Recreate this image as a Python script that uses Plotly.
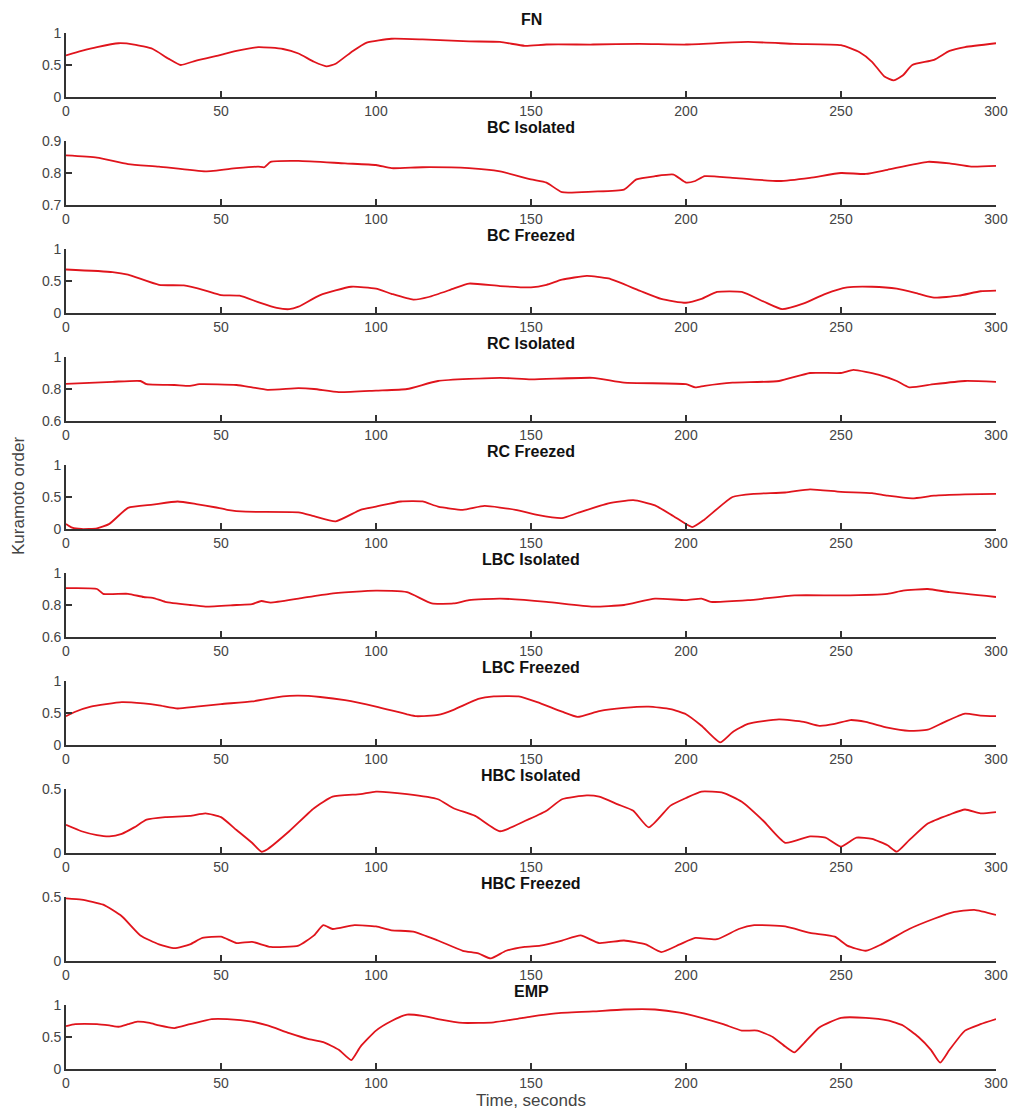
import plotly.graph_objects as go

# ---------------- data ----------------
titles = ["FN", "BC Isolated", "BC Freezed", "RC Isolated", "RC Freezed",
          "LBC Isolated", "LBC Freezed", "HBC Isolated", "HBC Freezed", "EMP"]

fn_t = [0, 5, 10, 17, 22, 28, 33, 37, 42, 50, 55, 62, 70, 75, 80, 84, 87, 92, 97, 105, 115, 130, 140, 148, 155,
        170, 185, 200, 220, 235, 250, 256, 260, 264, 267, 270, 273, 280, 285, 290, 300]
fn_v = [0.65, 0.72, 0.78, 0.84, 0.82, 0.75, 0.6, 0.5, 0.57, 0.66, 0.72, 0.78, 0.75, 0.68, 0.55, 0.48, 0.52, 0.7,
        0.85, 0.91, 0.9, 0.87, 0.86, 0.8, 0.82, 0.82, 0.83, 0.82, 0.86, 0.83, 0.81, 0.7, 0.55, 0.32, 0.26, 0.34,
        0.5, 0.58, 0.72, 0.78, 0.84]

bci_t = [0, 10, 20, 30, 45, 55, 62, 64, 66, 75, 90, 100, 105, 115, 130, 140, 150, 155, 160, 170, 180, 184, 190,
         196, 200, 203, 206, 215, 230, 240, 250, 258, 265, 278, 285, 292, 300]
bci_v = [0.855, 0.848, 0.828, 0.82, 0.805, 0.815, 0.82, 0.818, 0.835, 0.838, 0.83, 0.825, 0.815, 0.818, 0.815,
         0.805, 0.78, 0.77, 0.74, 0.742, 0.748, 0.78, 0.79, 0.795, 0.77, 0.775, 0.79, 0.785, 0.775, 0.785, 0.8,
         0.797, 0.81, 0.835, 0.83, 0.82, 0.822]

bcf_t = [0, 15, 20, 30, 38, 45, 50, 56, 62, 68, 72, 75, 82, 92, 100, 105, 112, 117, 125, 130, 140, 150, 155, 160,
         168, 175, 185, 192, 200, 205, 210, 218, 225, 231, 238, 245, 252, 260, 268, 275, 280, 288, 295, 300]
bcf_v = [0.68, 0.64, 0.6, 0.44, 0.43, 0.35, 0.28, 0.27, 0.17, 0.08, 0.06, 0.1, 0.28, 0.41, 0.38, 0.3, 0.21, 0.25,
         0.38, 0.46, 0.42, 0.4, 0.44, 0.52, 0.58, 0.54, 0.35, 0.22, 0.16, 0.22, 0.33, 0.33, 0.18, 0.06, 0.15, 0.3,
         0.4, 0.41, 0.38, 0.3, 0.24, 0.27, 0.34, 0.35]

rci_t = [0, 15, 24, 26, 35, 40, 43, 55, 60, 65, 75, 80, 88, 100, 110, 120, 140, 150, 170, 180, 200, 203, 206, 215,
         230, 240, 250, 254, 262, 268, 272, 280, 290, 300]
rci_v = [0.832, 0.845, 0.85, 0.83, 0.825, 0.82, 0.83, 0.825, 0.81, 0.795, 0.805, 0.8, 0.78, 0.79, 0.8, 0.85,
         0.87, 0.86, 0.87, 0.84, 0.83, 0.81, 0.82, 0.84, 0.85, 0.9, 0.9, 0.92, 0.89, 0.85, 0.81, 0.83, 0.85, 0.845]

rcf_t = [0, 2, 5, 10, 14, 20, 28, 36, 42, 48, 52, 58, 75, 80, 87, 95, 100, 108, 115, 120, 128, 135, 145, 152,
         160, 165, 175, 183, 190, 196, 202, 206, 215, 222, 232, 240, 250, 260, 265, 273, 280, 290, 300]
rcf_v = [0.08, 0.02, 0.0, 0.01, 0.08, 0.33, 0.38, 0.43, 0.39, 0.34, 0.3, 0.27, 0.26, 0.2, 0.12, 0.3, 0.35, 0.43,
         0.43, 0.35, 0.3, 0.36, 0.3, 0.22, 0.17, 0.25, 0.4, 0.45, 0.37, 0.2, 0.03, 0.15, 0.5, 0.55, 0.57, 0.62,
         0.58, 0.56, 0.52, 0.48, 0.52, 0.54, 0.55]

lbci_t = [0, 10, 12, 20, 25, 28, 32, 40, 45, 55, 60, 63, 66, 75, 85, 100, 110, 118, 125, 130, 140, 155, 170, 180,
          190, 200, 205, 208, 220, 235, 250, 265, 270, 278, 285, 300]
lbci_v = [0.905, 0.9, 0.87, 0.87, 0.85, 0.845, 0.82, 0.8, 0.79, 0.8, 0.805, 0.825, 0.815, 0.84, 0.87, 0.89, 0.88,
          0.81, 0.81, 0.83, 0.84, 0.82, 0.79, 0.8, 0.84, 0.83, 0.84, 0.82, 0.83, 0.86, 0.86, 0.87, 0.89, 0.9,
          0.88, 0.85]

lbcf_t = [0, 3, 8, 18, 25, 30, 36, 42, 50, 60, 70, 75, 82, 90, 100, 110, 113, 120, 125, 133, 138, 146, 152, 160,
          165, 172, 180, 188, 195, 200, 205, 211, 215, 220, 230, 238, 243, 248, 253, 258, 265, 272, 278, 283, 290,
          295, 300]
lbcf_v = [0.45, 0.52, 0.6, 0.67, 0.65, 0.62, 0.57, 0.6, 0.64, 0.68, 0.76, 0.77, 0.75, 0.7, 0.6, 0.48, 0.45, 0.47,
          0.55, 0.72, 0.76, 0.76, 0.67, 0.52, 0.44, 0.53, 0.58, 0.6, 0.56, 0.48, 0.3, 0.04, 0.2, 0.33, 0.4, 0.36,
          0.3, 0.33, 0.39, 0.36, 0.27, 0.22, 0.24, 0.35, 0.49, 0.46, 0.45]

hbci_t = [0, 5, 10, 14, 18, 22, 26, 32, 40, 45, 50, 55, 60, 63, 65, 72, 80, 86, 95, 100, 110, 120, 125, 132, 140,
          148, 155, 160, 168, 172, 178, 183, 188, 195, 200, 205, 212, 218, 225, 232, 240, 245, 250, 255, 260, 265,
          268, 272, 278, 285, 290, 295, 300]
hbci_v = [0.22, 0.17, 0.14, 0.13, 0.15, 0.2, 0.26, 0.28, 0.29, 0.31, 0.28, 0.18, 0.08, 0.01, 0.03, 0.17, 0.35,
          0.44, 0.46, 0.48, 0.46, 0.42, 0.35, 0.29, 0.17, 0.25, 0.33, 0.42, 0.45, 0.44, 0.38, 0.33, 0.2, 0.37,
          0.43, 0.48, 0.47, 0.4, 0.25, 0.08, 0.13, 0.12, 0.05, 0.12, 0.11, 0.06, 0.01, 0.1, 0.23, 0.3, 0.34, 0.31,
          0.32]

hbcf_t = [0, 5, 12, 18, 24, 30, 35, 40, 44, 50, 55, 60, 66, 75, 80, 83, 86, 93, 100, 105, 112, 120, 128, 133, 137,
          142, 148, 153, 160, 166, 172, 180, 187, 192, 198, 203, 210, 217, 222, 232, 240, 248, 252, 258, 263, 272,
          280, 286, 293, 300]
hbcf_v = [0.49, 0.48, 0.44, 0.35, 0.2, 0.13, 0.1, 0.13, 0.18, 0.19, 0.14, 0.15, 0.11, 0.12, 0.2, 0.28, 0.25,
          0.28, 0.27, 0.24, 0.23, 0.16, 0.08, 0.06, 0.02, 0.08, 0.11, 0.12, 0.16, 0.2, 0.14, 0.16, 0.13, 0.07,
          0.13, 0.18, 0.17, 0.25, 0.28, 0.27, 0.22, 0.19, 0.12, 0.08, 0.13, 0.25, 0.33, 0.38, 0.4, 0.36]

emp_t = [0, 3, 10, 14, 17, 20, 23, 27, 30, 35, 40, 47, 52, 60, 65, 72, 78, 83, 88, 92, 95, 100, 105, 110, 115,
         120, 128, 138, 145, 150, 158, 170, 180, 190, 198, 205, 212, 218, 223, 228, 232, 235, 238, 243, 250, 258,
         265, 270, 275, 279, 282, 285, 290, 295, 300]
emp_v = [0.67, 0.7, 0.7, 0.68, 0.66, 0.7, 0.74, 0.72, 0.68, 0.64, 0.7, 0.78, 0.78, 0.74, 0.68, 0.56, 0.47, 0.42,
         0.3, 0.14, 0.35, 0.6, 0.75, 0.85, 0.83, 0.78, 0.72, 0.73, 0.78, 0.82, 0.87, 0.9, 0.93, 0.93, 0.88, 0.8,
         0.7, 0.6, 0.6, 0.5, 0.35, 0.26, 0.4, 0.65, 0.8, 0.8, 0.76, 0.68, 0.5, 0.3, 0.1, 0.3, 0.6, 0.7, 0.78]

series_t = [fn_t, bci_t, bcf_t, rci_t, rcf_t, lbci_t, lbcf_t, hbci_t, hbcf_t, emp_t]
series_v = [fn_v, bci_v, bcf_v, rci_v, rcf_v, lbci_v, lbcf_v, hbci_v, hbcf_v, emp_v]

y_ranges = [[0, 1], [0.7, 0.9], [0, 1], [0.6, 1], [0, 1], [0.6, 1], [0, 1], [0, 0.5], [0, 0.5], [0, 1]]
y_tickvals = [[0, 0.5, 1], [0.7, 0.8, 0.9], [0, 0.5, 1], [0.6, 0.8, 1], [0, 0.5, 1], [0.6, 0.8, 1],
              [0, 0.5, 1], [0, 0.5], [0, 0.5], [0, 0.5, 1]]
y_ticktext = [["0", "0.5", "1"], ["0.7", "0.8", "0.9"], ["0", "0.5", "1"], ["0.6", "0.8", "1"],
              ["0", "0.5", "1"], ["0.6", "0.8", "1"], ["0", "0.5", "1"], ["0", "0.5"], ["0", "0.5"],
              ["0", "0.5", "1"]]
x_tickvals = [0, 50, 100, 150, 200, 250, 300]
x_title = "Time, seconds"
y_title = "Kuramoto order"

# ---------------- figure ----------------
W, H = 1015, 1113
fig = go.Figure()
layout = dict(
    width=W, height=H,
    margin=dict(l=66, r=19, t=0, b=0, autoexpand=False),
    paper_bgcolor="white", plot_bgcolor="white",
    showlegend=False,
    font=dict(family="Liberation Sans, Arial, sans-serif", color="#444"),
)
annotations = []
axcol = "#333333"
panel_h = 64
for i in range(10):
    top_px = 33 + 108 * i
    dom = [1 - (top_px + panel_h) / H, 1 - top_px / H]
    sfx = "" if i == 0 else str(i + 1)
    fig.add_trace(go.Scatter(
        x=series_t[i], y=series_v[i], mode="lines",
        line=dict(color="#e0141c", width=1.8, shape="spline", smoothing=0.5),
        xaxis="x" + sfx, yaxis="y" + sfx, hoverinfo="skip"))
    layout["xaxis" + sfx] = dict(
        domain=[0, 1], anchor="y" + sfx, range=[0, 300], tickvals=x_tickvals,
        ticktext=[str(v) for v in x_tickvals], automargin=False,
        showline=True, linecolor=axcol, linewidth=1.6, ticks="inside", ticklen=6,
        tickwidth=1.6, tickcolor=axcol, showgrid=False, zeroline=False,
        tickfont=dict(size=14, color="#444"),
    )
    layout["yaxis" + sfx] = dict(
        domain=dom, anchor="x" + sfx, range=y_ranges[i], tickvals=y_tickvals[i],
        ticktext=y_ticktext[i], automargin=False,
        showline=True, linecolor=axcol, linewidth=1.6, ticks="inside", ticklen=6,
        tickwidth=1.6, tickcolor=axcol, showgrid=False, zeroline=False,
        tickfont=dict(size=14, color="#444"),
    )
    annotations.append(dict(
        text="<b>" + titles[i] + "</b>", xref="paper", yref="paper", x=0.5, y=dom[1],
        xanchor="center", yanchor="bottom", yshift=3, showarrow=False,
        font=dict(size=16, color="#111", family="Liberation Sans, Arial, sans-serif")))

annotations.append(dict(
    text=y_title, xref="paper", yref="paper", x=(18 - 66) / 930, y=1 - 496 / H,
    xanchor="center", yanchor="middle", textangle=-90, showarrow=False,
    font=dict(size=17, color="#444")))
annotations.append(dict(
    text=x_title, xref="paper", yref="paper", x=0.5, y=1 - 1100 / H,
    xanchor="center", yanchor="middle", showarrow=False,
    font=dict(size=17, color="#444")))
layout["annotations"] = annotations
fig.update_layout(**layout)
fig.write_html("out.html")
